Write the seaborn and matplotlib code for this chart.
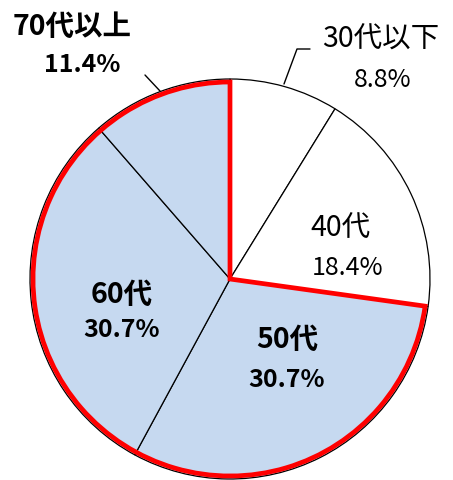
import matplotlib
matplotlib.use("Agg")
import matplotlib.pyplot as plt
from matplotlib.patches import Wedge
import numpy as np
import seaborn as sns

sns.set_theme(style="white")
plt.rcParams["font.family"] = ["Noto Sans CJK JP", "DejaVu Sans"]

ages = ["30代以下", "40代", "50代", "60代", "70代以上"]
shares = [8.8, 18.4, 30.7, 30.7, 11.4]
highlight = [False, False, True, True, True]

blue = "#C6D9F0"
colors = [blue if h else "white" for h in highlight]

fig = plt.figure(figsize=(4.53, 4.81), dpi=100)
ax = fig.add_axes([0, 0, 1, 1])

wedges, _ = ax.pie(shares, startangle=90, counterclock=False, colors=colors,
                   radius=1.0, center=(0, 0),
                   wedgeprops=dict(edgecolor="black", linewidth=0.9))

# red outline around the 50+ group
cum = np.cumsum([0] + shares)
first = highlight.index(True)
t_start = 90 - 360 * cum[first] / 100
ax.add_patch(Wedge((0, 0), 0.985, -270, t_start, fill=False,
                   edgecolor="#FF0000", linewidth=3.4, joinstyle="miter", zorder=5))

# label positions (name, pct) in axes data units
label_pos = [(0.755, 1.2), (0.55, 0.26), (0.285, -0.30), (-0.54, -0.075), (-0.79, 1.265)]
pct_pos = [(0.765, 1.0), (0.59, 0.06), (0.285, -0.50), (-0.54, -0.25), (-0.74, 1.075)]
bold = [False, False, True, True, True]

for i, name in enumerate(ages):
    w = "bold" if bold[i] else "normal"
    ax.text(*label_pos[i], name, ha="center", va="center", fontsize=20.5,
            fontweight=w, color="black", zorder=6)
    ax.text(*pct_pos[i], f"{shares[i]:.1f}%", ha="center", va="center",
            fontsize=18, fontweight=w, color="black", zorder=6)

# leader lines
ax.plot([0.27, 0.335, 0.40], [0.975, 1.15, 1.15], color="black", lw=1.0)
ax.plot([-0.425, -0.35], [1.02, 0.94], color="black", lw=1.0)

ax.set_xlim(-1.15, 1.115)
ax.set_ylim(-1.005, 1.4)
ax.set_aspect("equal")
ax.axis("off")

fig.savefig("out.png", dpi=100)
